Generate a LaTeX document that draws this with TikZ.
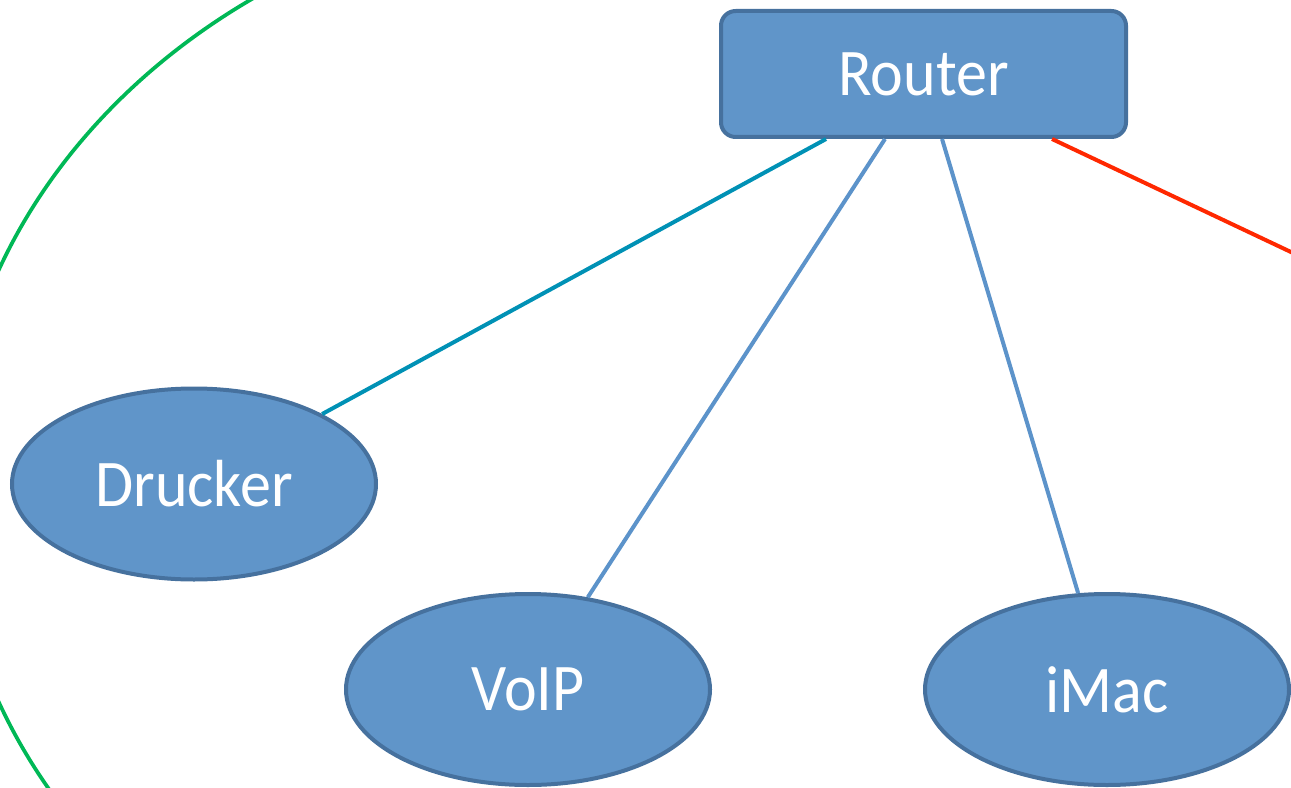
\documentclass[tikz,border=0pt]{standalone}
\usepackage{fontspec}
\setmainfont[FakeStretch=0.93]{Carlito}
\usetikzlibrary{shapes.geometric}

\definecolor{nodefill}{RGB}{96,149,201}
\definecolor{nodeline}{RGB}{70,113,158}
\definecolor{tealline}{RGB}{0,145,181}
\definecolor{lanline}{RGB}{92,147,202}
\definecolor{wanline}{RGB}{255,40,0}
\definecolor{zoneline}{RGB}{0,184,86}

\tikzset{every picture/.style={line width=3pt},
  routerbox/.style={draw=nodeline, fill=nodefill, rounded corners=11pt, minimum width=303.75pt, minimum height=94.5pt, inner sep=0pt, text=white, font=\fontsize{50}{60}\selectfont},
  devicebox/.style={ellipse, draw=nodeline, fill=nodefill, minimum width=273pt, minimum height=143.25pt, inner sep=0pt, text=white, font=\fontsize{50}{60}\selectfont}
}

\begin{document}
\begin{tikzpicture}[x=0.75pt,y=0.75pt,yscale=-1,xscale=1]
\useasboundingbox (0,0) rectangle (1291,788);
\clip (0,0) rectangle (1291,788);
% Ellipse (left part only)
\begin{scope}
\clip (0,0) rectangle (640,788);
\draw [color=zoneline, line width=2.8pt] (639,486) ellipse [x radius=516pt, y radius=441.75pt];
\end{scope}
% Router
\draw (923.5,74) node (router) [routerbox] {Router};
% Devices
\draw (194,484) node (drucker) [devicebox] {Drucker};
\draw (528,689.5) node (voip) [devicebox] {VoIP};
\draw (1107,689.5) node (imac) [devicebox] {iMac};
\coordinate (wan) at (1400,303.6);
% Lines
\draw [color=tealline] ([xshift=-73.1pt]router.south) -- (drucker);
\draw [color=lanline] ([xshift=-28.9pt]router.south) -- (voip);
\draw [color=lanline] ([xshift=13.9pt]router.south) -- (imac);
\draw [color=wanline] ([xshift=96.4pt]router.south) -- (wan);
\end{tikzpicture}
\end{document}
